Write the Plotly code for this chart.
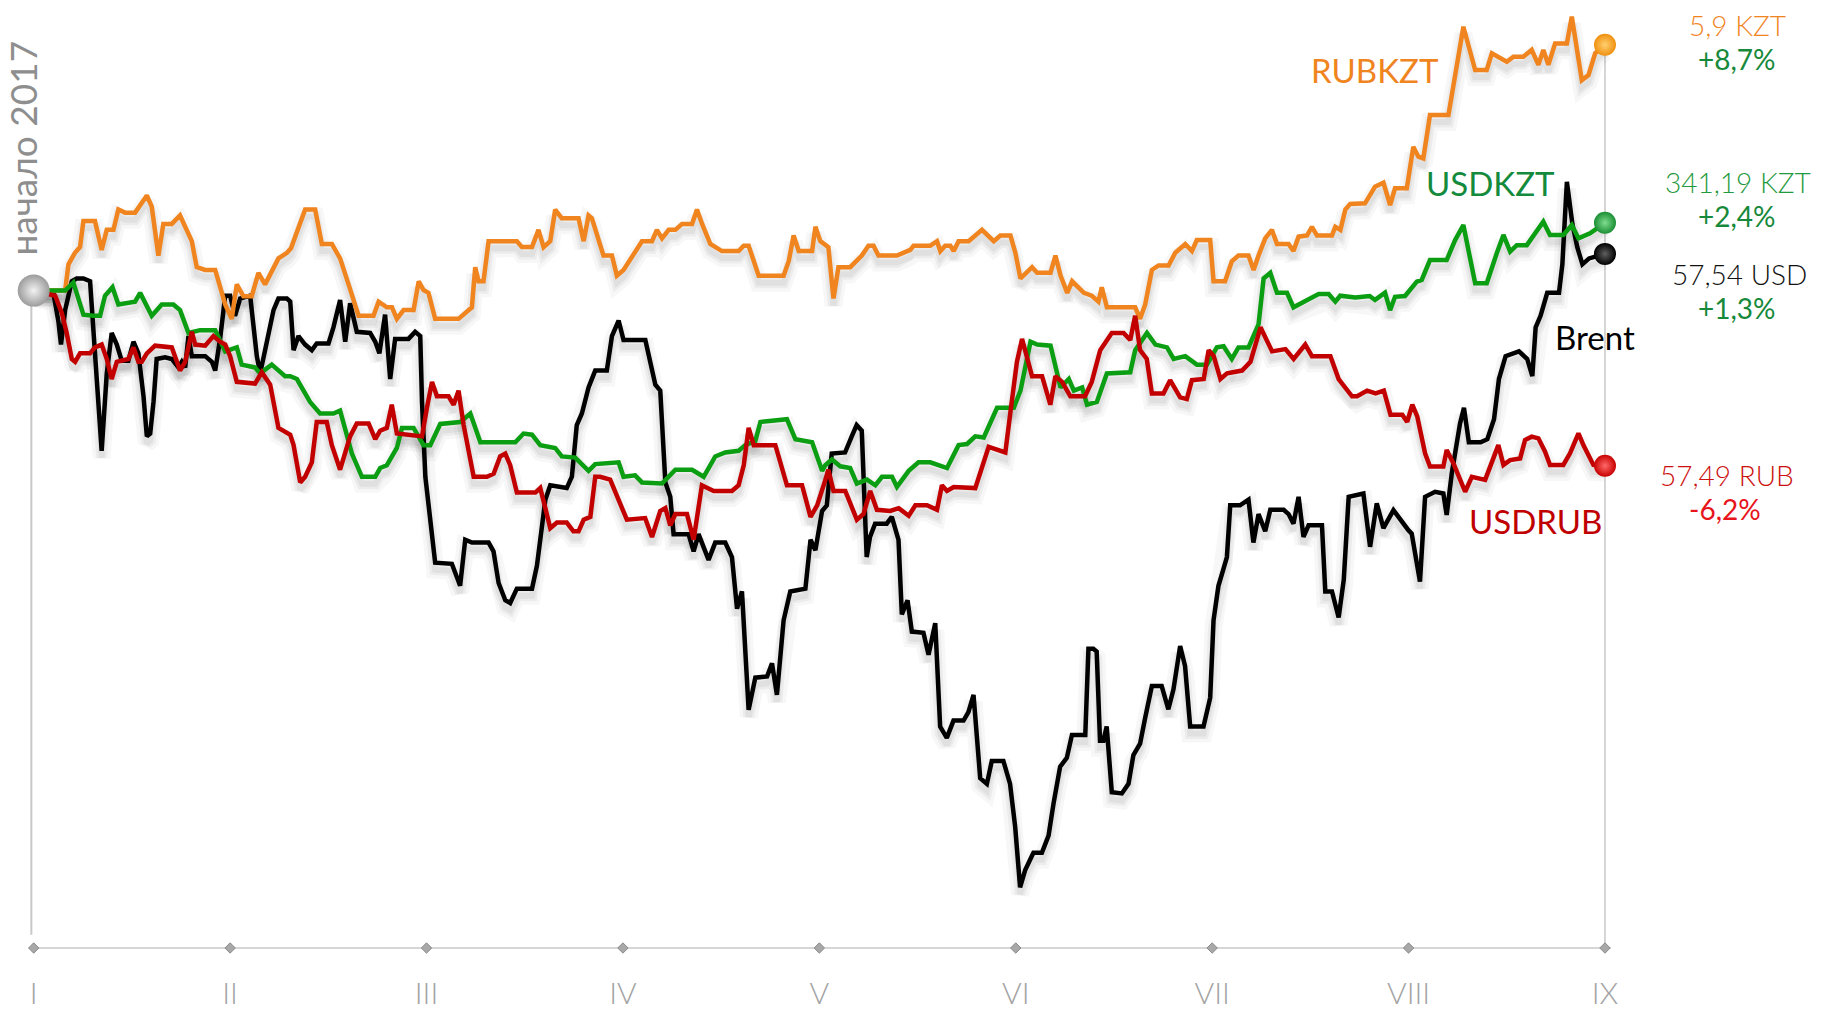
import plotly.graph_objects as go

# ---------------- data (month index 0 = Jan 1 2017, value = % change since start of 2017)
months_ticks = [0, 1, 2, 3, 4, 5, 6, 7, 8]
month_labels = ["I", "II", "III", "IV", "V", "VI", "VII", "VIII", "IX"]

rubkzt_m = [0, 0.16, 0.177, 0.21, 0.236, 0.253, 0.312, 0.346, 0.372, 0.406, 0.431, 0.465, 0.516, 0.576, 0.601, 0.635, 0.66, 0.703, 0.745, 0.805, 0.83, 0.873, 0.924, 0.975, 1.008, 1.034, 1.068, 1.11, 1.144, 1.178, 1.246, 1.289, 1.31, 1.348, 1.382, 1.433, 1.467, 1.518, 1.56, 1.603, 1.654, 1.73, 1.756, 1.798, 1.824, 1.849, 1.883, 1.934, 1.96, 1.985, 2.01, 2.044, 2.163, 2.231, 2.248, 2.265, 2.29, 2.316, 2.46, 2.486, 2.537, 2.57, 2.596, 2.63, 2.655, 2.689, 2.774, 2.8, 2.825, 2.842, 2.876, 2.901, 2.944, 2.969, 3.003, 3.097, 3.148, 3.173, 3.199, 3.233, 3.267, 3.301, 3.352, 3.377, 3.403, 3.445, 3.504, 3.589, 3.615, 3.64, 3.691, 3.818, 3.844, 3.869, 3.895, 3.963, 3.98, 4.005, 4.046, 4.072, 4.097, 4.157, 4.216, 4.25, 4.276, 4.301, 4.395, 4.463, 4.48, 4.565, 4.599, 4.616, 4.641, 4.667, 4.684, 4.709, 4.76, 4.828, 4.888, 4.922, 4.973, 4.998, 5.024, 5.083, 5.109, 5.177, 5.202, 5.228, 5.262, 5.287, 5.347, 5.387, 5.421, 5.438, 5.464, 5.608, 5.633, 5.659, 5.693, 5.727, 5.778, 5.812, 5.863, 5.897, 5.922, 5.99, 6.007, 6.066, 6.1, 6.134, 6.185, 6.211, 6.236, 6.27, 6.304, 6.33, 6.389, 6.414, 6.44, 6.483, 6.508, 6.534, 6.61, 6.627, 6.653, 6.678, 6.703, 6.778, 6.829, 6.872, 6.906, 6.931, 6.991, 7.024, 7.05, 7.075, 7.109, 7.203, 7.279, 7.339, 7.398, 7.424, 7.5, 7.534, 7.584, 7.627, 7.661, 7.686, 7.712, 7.746, 7.806, 7.831, 7.882, 7.916, 7.95, 8.0]
rubkzt_pct = [0, 0, 0.93, 1.34, 1.54, 2.46, 2.46, 1.44, 2.15, 2.15, 2.87, 2.76, 2.76, 3.37, 2.97, 1.24, 2.36, 2.36, 2.66, 1.75, 0.83, 0.73, 0.73, -0.49, -1.0, 0.22, -0.2, -0.2, 0.63, 0.22, 1.14, 1.34, 1.5, 2.26, 2.87, 2.87, 1.65, 1.65, 1.14, 0.22, -0.89, -0.89, -0.39, -0.59, -0.59, -1.0, -0.69, -0.69, 0.33, 0.02, -0.08, -1.0, -1.0, -0.59, 0.83, 0.33, 0.33, 1.75, 1.75, 1.54, 1.54, 2.15, 1.54, 1.75, 2.87, 2.56, 2.56, 1.75, 2.66, 2.56, 1.75, 1.24, 1.24, 0.53, 0.73, 1.75, 1.75, 2.15, 1.85, 2.15, 2.15, 2.36, 2.36, 2.87, 2.36, 1.65, 1.4, 1.4, 1.59, 1.59, 0.53, 0.53, 1.04, 1.95, 1.4, 1.4, 2.26, 1.75, 1.54, -0.28, 0.83, 0.83, 1.24, 1.59, 1.59, 1.24, 1.24, 1.44, 1.59, 1.59, 1.75, 1.4, 1.59, 1.59, 1.4, 1.75, 1.75, 2.15, 1.75, 1.95, 1.95, 1.34, 0.43, 0.83, 0.63, 0.63, 1.24, 0.53, -0.08, 0.33, -0.08, -0.18, -0.39, 0.12, -0.59, -0.59, -1.0, -0.49, 0.73, 0.89, 0.89, 1.34, 1.65, 1.4, 1.79, 1.79, 0.33, 0.33, 1.04, 1.24, 1.24, 0.73, 1.24, 1.85, 2.15, 1.65, 1.65, 1.4, 1.91, 1.95, 2.26, 1.95, 1.95, 2.26, 2.15, 2.87, 3.07, 3.09, 3.68, 3.82, 3.03, 3.62, 3.62, 5.09, 4.74, 4.68, 6.22, 6.22, 9.34, 7.81, 7.81, 8.4, 8.1, 8.28, 8.28, 8.52, 7.99, 8.52, 7.99, 8.75, 8.75, 9.7, 7.45, 7.63, 8.4, 8.7]

usdkzt_m = [0, 0.16, 0.202, 0.253, 0.304, 0.338, 0.363, 0.401, 0.431, 0.516, 0.542, 0.601, 0.652, 0.711, 0.745, 0.788, 0.847, 0.924, 0.975, 1.034, 1.059, 1.127, 1.153, 1.212, 1.28, 1.306, 1.34, 1.373, 1.407, 1.458, 1.526, 1.56, 1.586, 1.62, 1.671, 1.739, 1.764, 1.798, 1.849, 1.875, 1.934, 1.985, 2.019, 2.07, 2.172, 2.223, 2.274, 2.452, 2.494, 2.537, 2.579, 2.613, 2.655, 2.689, 2.757, 2.825, 2.859, 2.978, 3.003, 3.062, 3.097, 3.199, 3.267, 3.352, 3.411, 3.47, 3.521, 3.589, 3.623, 3.674, 3.7, 3.835, 3.878, 3.963, 4.014, 4.03, 4.064, 4.106, 4.157, 4.191, 4.242, 4.285, 4.319, 4.37, 4.395, 4.455, 4.505, 4.565, 4.65, 4.709, 4.752, 4.794, 4.837, 4.905, 4.99, 5.024, 5.075, 5.109, 5.177, 5.228, 5.27, 5.296, 5.338, 5.363, 5.413, 5.464, 5.583, 5.608, 5.668, 5.711, 5.77, 5.804, 5.863, 5.922, 5.973, 6.024, 6.058, 6.1, 6.134, 6.185, 6.236, 6.262, 6.296, 6.33, 6.381, 6.414, 6.474, 6.542, 6.593, 6.627, 6.652, 6.729, 6.802, 6.829, 6.88, 6.906, 6.931, 6.982, 7.042, 7.067, 7.109, 7.194, 7.237, 7.279, 7.339, 7.398, 7.449, 7.483, 7.517, 7.551, 7.602, 7.686, 7.72, 7.788, 7.831, 7.865, 7.924, 8.0]
usdkzt_pct = [0, 0, 0.28, -0.85, -0.89, -0.89, -0.18, 0.12, -0.49, -0.39, -0.08, -0.89, -0.49, -0.49, -0.69, -1.5, -1.4, -1.4, -2.15, -2.01, -2.62, -2.72, -2.93, -2.62, -3.03, -3.03, -3.13, -3.54, -3.94, -4.35, -4.35, -4.25, -4.86, -5.77, -6.59, -6.59, -6.28, -6.18, -5.57, -4.86, -4.86, -5.47, -5.47, -4.72, -4.65, -4.35, -5.37, -5.37, -5.06, -5.1, -5.47, -5.53, -5.57, -5.87, -5.91, -6.38, -6.14, -6.08, -6.59, -6.54, -6.79, -6.83, -6.34, -6.34, -6.59, -5.87, -5.73, -5.67, -5.47, -5.33, -4.65, -4.55, -5.26, -5.37, -6.38, -6.18, -5.98, -6.22, -6.28, -6.83, -6.69, -6.89, -6.59, -6.59, -6.95, -6.38, -6.08, -6.08, -6.28, -5.47, -5.43, -5.16, -5.2, -4.15, -4.15, -3.54, -1.81, -1.91, -1.95, -3.43, -3.13, -3.54, -3.43, -4.04, -3.94, -2.93, -2.89, -2.11, -1.5, -1.91, -2.01, -2.42, -2.32, -2.62, -2.62, -2.01, -1.97, -2.42, -2.01, -2.01, -1.2, 0.43, 0.63, -0.08, -0.08, -0.59, -0.39, -0.12, -0.12, -0.39, -0.18, -0.24, -0.19, -0.33, -0.07, -0.69, -0.22, -0.19, 0.32, 0.38, 1.08, 1.08, 1.79, 2.32, 0.26, 0.26, 1.32, 1.97, 1.38, 1.61, 1.61, 2.44, 1.97, 1.97, 2.32, 1.85, 2.03, 2.4]

usdrub_m = [0, 0.109, 0.143, 0.168, 0.194, 0.211, 0.236, 0.287, 0.312, 0.346, 0.372, 0.397, 0.423, 0.482, 0.508, 0.533, 0.55, 0.576, 0.618, 0.703, 0.745, 0.771, 0.805, 0.822, 0.873, 0.915, 0.949, 0.975, 1.0, 1.034, 1.127, 1.161, 1.204, 1.246, 1.306, 1.323, 1.357, 1.382, 1.416, 1.441, 1.492, 1.518, 1.56, 1.586, 1.611, 1.645, 1.705, 1.739, 1.764, 1.798, 1.823, 1.849, 1.977, 2.002, 2.028, 2.053, 2.112, 2.138, 2.163, 2.189, 2.24, 2.308, 2.342, 2.375, 2.401, 2.426, 2.46, 2.554, 2.579, 2.605, 2.63, 2.664, 2.714, 2.748, 2.774, 2.8, 2.834, 2.859, 2.884, 2.935, 2.978, 3.02, 3.113, 3.148, 3.19, 3.216, 3.241, 3.267, 3.326, 3.36, 3.402, 3.462, 3.555, 3.589, 3.615, 3.64, 3.666, 3.776, 3.835, 3.912, 3.955, 3.989, 4.031, 4.046, 4.072, 4.132, 4.191, 4.225, 4.259, 4.293, 4.361, 4.404, 4.455, 4.489, 4.548, 4.599, 4.624, 4.65, 4.684, 4.794, 4.862, 4.947, 4.972, 5.006, 5.032, 5.057, 5.083, 5.134, 5.176, 5.202, 5.236, 5.278, 5.353, 5.387, 5.43, 5.489, 5.549, 5.583, 5.608, 5.633, 5.667, 5.693, 5.752, 5.786, 5.837, 5.871, 5.897, 5.957, 5.982, 6.008, 6.042, 6.076, 6.152, 6.195, 6.246, 6.305, 6.373, 6.415, 6.474, 6.508, 6.602, 6.644, 6.712, 6.738, 6.789, 6.832, 6.874, 6.908, 6.968, 6.993, 7.019, 7.044, 7.084, 7.109, 7.177, 7.194, 7.228, 7.288, 7.322, 7.39, 7.415, 7.457, 7.483, 7.517, 7.568, 7.593, 7.627, 7.661, 7.695, 7.72, 7.788, 7.822, 7.865, 7.89, 7.941, 8.0]
usdrub_pct = [0, -0.18, -0.79, -1.5, -2.42, -2.52, -2.22, -2.22, -2.01, -1.91, -2.42, -3.13, -2.52, -2.42, -2.01, -2.52, -2.52, -2.22, -1.95, -2.01, -2.83, -2.52, -1.46, -1.91, -1.95, -1.61, -1.81, -1.91, -2.32, -3.23, -3.29, -2.89, -3.33, -4.86, -5.1, -5.47, -6.79, -6.59, -6.08, -4.65, -4.65, -5.47, -6.34, -5.77, -5.16, -4.7, -4.7, -5.26, -4.96, -4.86, -4.04, -5.06, -5.16, -4.15, -3.23, -3.74, -3.74, -4.04, -3.54, -4.76, -6.59, -6.59, -6.48, -5.87, -5.77, -6.18, -7.15, -7.15, -6.99, -7.7, -8.41, -8.21, -8.21, -8.52, -8.52, -8.11, -8.01, -6.59, -6.59, -6.69, -7.4, -8.11, -8.05, -8.72, -7.8, -7.7, -8.31, -7.91, -7.91, -8.82, -6.89, -7.09, -7.09, -6.89, -6.18, -4.86, -5.47, -5.47, -6.89, -6.89, -8.01, -7.6, -6.69, -6.34, -7.09, -7.09, -8.11, -7.91, -7.09, -7.76, -7.8, -7.7, -7.97, -7.6, -7.6, -7.76, -6.89, -7.09, -6.95, -6.99, -5.53, -5.73, -4.35, -2.52, -1.71, -2.32, -3.03, -3.03, -4.04, -3.03, -3.23, -3.74, -3.74, -3.23, -2.11, -1.5, -1.5, -1.75, -0.89, -2.11, -2.42, -3.64, -3.64, -3.17, -3.78, -3.84, -3.17, -3.13, -2.11, -2.32, -3.13, -2.93, -2.83, -2.52, -1.3, -2.15, -2.07, -2.42, -1.91, -2.32, -2.32, -3.13, -3.74, -3.74, -3.54, -3.64, -3.54, -4.39, -4.39, -4.65, -4.04, -4.45, -5.76, -6.23, -6.23, -5.64, -6.11, -7.12, -6.59, -6.7, -6.23, -5.47, -6.17, -6.0, -5.94, -5.29, -5.17, -5.23, -5.7, -6.17, -6.17, -5.76, -5.05, -5.47, -6.17, -6.2]

brent_m = [0, 0.1, 0.126, 0.139, 0.16, 0.194, 0.219, 0.253, 0.287, 0.304, 0.329, 0.346, 0.372, 0.397, 0.423, 0.448, 0.482, 0.508, 0.533, 0.559, 0.576, 0.593, 0.61, 0.626, 0.669, 0.703, 0.737, 0.754, 0.771, 0.788, 0.805, 0.873, 0.907, 0.924, 0.949, 0.975, 1.0, 1.025, 1.051, 1.102, 1.136, 1.153, 1.178, 1.221, 1.246, 1.289, 1.306, 1.323, 1.348, 1.382, 1.416, 1.441, 1.501, 1.526, 1.56, 1.586, 1.611, 1.645, 1.713, 1.739, 1.76, 1.789, 1.815, 1.84, 1.908, 1.942, 1.968, 1.977, 1.994, 2.019, 2.044, 2.129, 2.171, 2.197, 2.231, 2.316, 2.341, 2.367, 2.401, 2.426, 2.46, 2.537, 2.562, 2.579, 2.605, 2.63, 2.714, 2.74, 2.765, 2.791, 2.825, 2.859, 2.918, 2.944, 2.978, 3.003, 3.114, 3.165, 3.19, 3.216, 3.241, 3.258, 3.334, 3.36, 3.385, 3.436, 3.47, 3.521, 3.555, 3.581, 3.606, 3.64, 3.674, 3.734, 3.759, 3.784, 3.818, 3.852, 3.929, 3.955, 3.98, 4.014, 4.038, 4.063, 4.131, 4.165, 4.19, 4.216, 4.233, 4.241, 4.258, 4.284, 4.343, 4.369, 4.403, 4.42, 4.449, 4.471, 4.53, 4.556, 4.59, 4.615, 4.649, 4.683, 4.734, 4.759, 4.785, 4.819, 4.853, 4.878, 4.937, 4.971, 4.997, 5.022, 5.048, 5.09, 5.133, 5.167, 5.192, 5.226, 5.26, 5.286, 5.354, 5.37, 5.395, 5.412, 5.429, 5.446, 5.463, 5.489, 5.54, 5.574, 5.599, 5.633, 5.659, 5.693, 5.743, 5.777, 5.803, 5.837, 5.862, 5.888, 5.956, 5.99, 6.007, 6.032, 6.058, 6.075, 6.092, 6.142, 6.185, 6.21, 6.236, 6.27, 6.296, 6.364, 6.389, 6.414, 6.44, 6.465, 6.491, 6.559, 6.576, 6.61, 6.644, 6.67, 6.695, 6.77, 6.804, 6.838, 6.872, 6.923, 6.999, 7.016, 7.058, 7.084, 7.135, 7.177, 7.194, 7.22, 7.262, 7.282, 7.307, 7.367, 7.401, 7.435, 7.46, 7.494, 7.562, 7.604, 7.63, 7.647, 7.672, 7.706, 7.766, 7.783, 7.806, 7.834, 7.859, 7.885, 7.919, 8.0]
brent_pct = [0, -0.08, -1.1, -1.91, -0.69, 0.33, 0.43, 0.43, 0.33, -1.3, -3.94, -5.67, -2.93, -1.5, -1.91, -2.48, -2.48, -1.81, -2.22, -3.74, -5.16, -5.06, -3.94, -2.42, -2.36, -2.42, -2.72, -2.52, -2.72, -1.61, -2.32, -2.32, -2.52, -2.83, -1.71, -0.18, -0.18, -0.89, -0.28, -0.18, -2.32, -2.93, -2.11, -0.69, -0.28, -0.28, -0.39, -2.11, -1.61, -1.91, -2.11, -1.87, -1.87, -1.3, -0.33, -1.81, -0.45, -1.46, -1.5, -1.81, -2.22, -0.85, -3.13, -1.71, -1.71, -1.46, -1.61, -3.94, -6.59, -8.01, -9.63, -9.67, -10.45, -8.82, -8.92, -8.92, -9.23, -10.35, -10.96, -11.06, -10.55, -10.55, -9.74, -8.82, -7.4, -6.89, -6.99, -6.59, -4.76, -4.35, -3.43, -2.83, -2.83, -1.61, -1.06, -1.75, -1.75, -3.33, -3.54, -6.79, -7.3, -8.62, -8.62, -9.23, -8.62, -9.53, -8.92, -8.92, -9.43, -11.26, -10.65, -14.84, -13.7, -13.66, -13.19, -14.31, -11.67, -10.65, -10.55, -8.82, -9.19, -7.8, -7.6, -5.77, -5.73, -5.16, -4.76, -4.96, -7.6, -9.43, -8.72, -8.25, -8.25, -8.01, -8.82, -11.46, -10.96, -12.07, -12.11, -12.89, -11.77, -15.43, -15.83, -15.22, -15.22, -14.92, -14.31, -17.26, -17.46, -16.65, -16.65, -17.46, -18.98, -21.12, -20.51, -19.9, -19.9, -19.29, -18.17, -16.85, -16.54, -15.73, -15.73, -12.68, -12.68, -12.78, -15.93, -15.93, -15.43, -17.76, -17.8, -17.46, -16.44, -16.04, -15.12, -14.0, -14.0, -14.82, -14.11, -12.58, -13.29, -15.43, -15.43, -14.41, -11.67, -10.45, -9.84, -9.43, -7.6, -7.6, -7.4, -8.92, -7.91, -8.52, -7.76, -7.76, -7.91, -8.25, -7.3, -8.72, -8.31, -8.31, -10.65, -10.65, -11.57, -10.24, -7.3, -7.18, -9.07, -7.53, -8.41, -7.77, -8.48, -8.6, -10.3, -7.3, -7.12, -7.18, -7.94, -6.47, -4.7, -4.15, -5.37, -5.37, -5.26, -4.55, -3.13, -2.32, -2.15, -2.42, -3.03, -1.3, -0.89, -0.08, -0.08, 0.93, 3.85, 2.36, 1.54, 0.93, 1.14, 1.3]

series_names = ["RUBKZT", "USDKZT", "Brent", "USDRUB"]
end_values = ["5,9 KZT", "341,19 KZT", "57,54 USD", "57,49 RUB"]
end_changes = ["+8,7%", "+2,4%", "+1,3%", "-6,2%"]
start_label = "начало 2017"

# ---------------- styling
C_OR = "#f0841e"
C_GR = "#0b9e12"
C_BK = "#000000"
C_RD = "#c30000"

px_per_pct = 28.25
y_lo, y_hi = -23.27, 10.287
x_lo, x_hi = -0.1716, 9.110
shadow_shift = 7 / px_per_pct

fig = go.Figure()

series = [
    (brent_m, brent_pct, C_BK),
    (rubkzt_m, rubkzt_pct, C_OR),
    (usdkzt_m, usdkzt_pct, C_GR),
    (usdrub_m, usdrub_pct, C_RD),
]

# soft shadows (on base y axis, shifted down)
for m, p, c in series:
    for w, a in [(18, 0.03), (11, 0.045), (6, 0.05)]:
        fig.add_trace(go.Scatter(x=m, y=p, mode="lines", xaxis="x", yaxis="y",
                                 line=dict(color=f"rgba(0,0,0,{a})", width=w, shape="linear"),
                                 hoverinfo="skip", showlegend=False))

# main lines
for m, p, c in series:
    fig.add_trace(go.Scatter(x=m, y=p, mode="lines", xaxis="x", yaxis="y2",
                             line=dict(color=c, width=4.5), hoverinfo="skip", showlegend=False))

# axis diamonds
fig.add_trace(go.Scatter(x=months_ticks, y=[y_lo] * len(months_ticks), mode="markers",
                         xaxis="x", yaxis="y2", cliponaxis=False,
                         marker=dict(symbol="diamond", size=8, color="#a8a8a8",
                                     line=dict(color="#8a8a8a", width=1)),
                         hoverinfo="skip", showlegend=False))

# start sphere
fig.add_trace(go.Scatter(x=[rubkzt_m[0]], y=[rubkzt_pct[0]], mode="markers", xaxis="x", yaxis="y2",
                         cliponaxis=False,
                         marker=dict(size=32, color="#9c9c9c",
                                     gradient=dict(type="radial", color="#f2f2f2"),
                                     line=dict(width=0)),
                         hoverinfo="skip", showlegend=False))

# end spheres
end_styles = [(rubkzt_m, rubkzt_pct, "#f09010", "#ffd070"),
              (usdkzt_m, usdkzt_pct, "#1b8f35", "#7fdc8f"),
              (brent_m, brent_pct, "#000000", "#606060"),
              (usdrub_m, usdrub_pct, "#c80000", "#ff6a6a")]
for m, p, c, g in end_styles:
    fig.add_trace(go.Scatter(x=[m[-1]], y=[p[-1]], mode="markers", xaxis="x", yaxis="y2",
                             cliponaxis=False,
                             marker=dict(size=22, color=c, gradient=dict(type="radial", color=g),
                                         line=dict(width=0)),
                             hoverinfo="skip", showlegend=False))

shapes = [
    # bottom axis line
    dict(type="line", xref="x", yref="paper", x0=-0.015, x1=8.03, y0=0, y1=0,
         line=dict(color="#d6d6d6", width=2), layer="below"),
    # left guide
    dict(type="line", xref="x", yref="y2", x0=-0.012, x1=-0.012, y0=0, y1=-22.8,
         line=dict(color="#c8c8c8", width=2), layer="below"),
    # right guide
    dict(type="line", xref="x", yref="y2", x0=8.0, x1=8.0, y0=rubkzt_pct[-1], y1=y_lo,
         line=dict(color="#c8c8c8", width=1.5), layer="below"),
]

FONT = "Lato, 'Open Sans', sans-serif"
ann = []

def add(text, x, y, color, size, weight=400, angle=0):
    ann.append(dict(text=text, x=x, y=y, xref="x", yref="y2", showarrow=False,
                    xanchor="center", yanchor="middle", textangle=angle,
                    font=dict(family=FONT, size=size, color=color, weight=weight)))

# right-side values
add(end_values[0], 8.673, 9.40, C_OR, 28, 300)
add(end_changes[0], 8.673, 8.20, "#17893a", 28, 400)
add(end_values[1], 8.678, 3.84, "#1f9a3e", 28, 300)
add(end_changes[1], 8.673, 2.64, "#17893a", 28, 400)
add(end_values[2], 8.683, 0.60, "#111111", 28, 300)
add(end_changes[2], 8.673, -0.60, "#17893a", 28, 400)
add(end_values[3], 8.622, -6.53, "#cc1010", 28, 300)
add(end_changes[3], 8.612, -7.73, "#e8141c", 28, 400)

# series labels
add(series_names[0], 6.829, 7.81, C_OR, 33, 400)
add(series_names[1], 7.415, 3.81, "#138a3c", 33, 400)
add(series_names[2], 7.95, -1.64, "#000000", 33, 400)
add(series_names[3], 7.644, -8.16, "#c00000", 33, 400)

# start label
add(start_label, -0.057, 5.05, "#8e8e8e", 37, 400, -90)

fig.update_layout(
    width=1823, height=1010,
    margin=dict(l=0, r=0, t=0, b=62, autoexpand=False),
    paper_bgcolor="white", plot_bgcolor="white",
    showlegend=False, hovermode=False,
    xaxis=dict(range=[x_lo, x_hi], tickvals=months_ticks, ticktext=month_labels,
               showgrid=False, zeroline=False, showline=False, ticks="",
               automargin=False, ticklabelstandoff=25,
               tickfont=dict(family=FONT, size=30, color="#a3a3a3", weight=300)),
    yaxis=dict(range=[y_lo + shadow_shift, y_hi + shadow_shift], visible=False, showgrid=False,
               automargin=False),
    yaxis2=dict(range=[y_lo, y_hi], overlaying="y", visible=False, showgrid=False,
                automargin=False),
    shapes=shapes,
    annotations=ann,
)

fig.write_html("out.html", config={"displayModeBar": False, "staticPlot": True},
               post_script="document.body.style.margin='0px';document.body.style.overflow='hidden';")
